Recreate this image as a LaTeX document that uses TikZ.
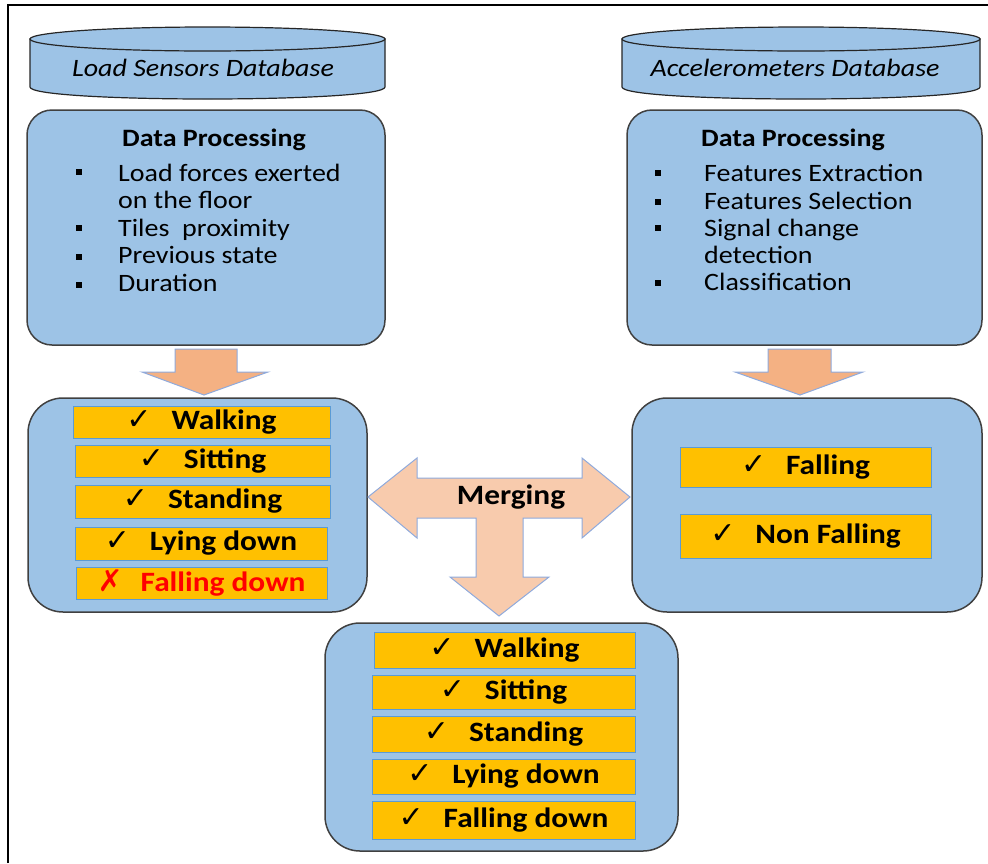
\documentclass[tikz,border=0pt]{standalone}
\usepackage{fontspec}
\setmainfont[FakeStretch=1.12]{Carlito}
\newfontfamily\djv{DejaVu Sans}
\definecolor{boxblue}{HTML}{9DC3E6}
\definecolor{itemyel}{HTML}{FFC000}
\definecolor{itemedge}{HTML}{5B9BD5}
\definecolor{arrowor}{HTML}{F4B183}
\definecolor{arrowlt}{HTML}{F8CBAD}
\definecolor{arrowedge}{HTML}{8FAADC}
\definecolor{boxedge}{HTML}{404040}
\definecolor{xred}{HTML}{FF0000}
\newcommand{\ckm}{{\djv\fontsize{30}{30}\selectfont ✓}\hspace{20pt}}
\newcommand{\xmk}{{\djv\bfseries\fontsize{30}{30}\selectfont ✗}\hspace{18pt}}
\tikzset{
  dpbox/.style={draw=boxedge, line width=1.5pt, fill=boxblue, rounded corners=25pt, inner sep=0pt},
  resbox/.style={draw=boxedge, line width=1.5pt, fill=boxblue, rounded corners=35pt, inner sep=0pt},
  item/.style={draw=itemedge, line width=1pt, fill=itemyel, inner sep=0pt, font=\bfseries\fontsize{28}{28}\selectfont},
  blk/.style={draw=arrowedge, line width=1pt},
  cyl/.style={draw=black!85, line width=1.2pt, fill=boxblue},
  bul/.style={fill=black, minimum size=6pt, inner sep=0pt},
  btxt/.style={anchor=base west, inner sep=0pt, font=\fontsize{25}{25}\selectfont},
  ttl/.style={anchor=base, inner sep=0pt, font=\bfseries\fontsize{25}{25}\selectfont},
  dbl/.style={anchor=base, inner sep=0pt, font=\itshape\fontsize{25}{25}\selectfont},
}
\begin{document}
\begin{tikzpicture}[x=1pt,y=-1pt]
\useasboundingbox (0,0) rectangle (988,863);
% frame
\draw[line width=2.5pt] (8,863) -- (8,5) -- (988,5);

% cylinders
\path[cyl] (30,39) -- (30,87) .. controls (30,103) and (385,103) .. (385,87) -- (385,39) -- cycle;
\path[cyl] (207.5,39) ellipse [x radius=177.5, y radius=12];
\node[dbl] (dbL) at (203,76) {Load Sensors Database};
\path[cyl] (622,39) -- (622,87) .. controls (622,103) and (980,103) .. (980,87) -- (980,39) -- cycle;
\path[cyl] (801,39) ellipse [x radius=179, y radius=12];
\node[dbl] (dbR) at (795,76) {Accelerometers Database};

% data processing boxes
\node[dpbox, minimum width=358pt, minimum height=235pt] (dpL) at (206,227.5) {};
\node[ttl] (dpLt) at (214,146) {Data Processing};
\node[bul] (bl1) at (79,172) {};
\node[btxt] (tl1) at (118,181) {Load forces exerted};
\node[btxt] (tl1b) at (118,208) {on the floor};
\node[bul] (bl2) at (79,228) {};
\node[btxt] (tl2) at (118,236) {Tiles\ \ proximity};
\node[bul] (bl3) at (79,257) {};
\node[btxt] (tl3) at (118,263) {Previous state};
\node[bul] (bl4) at (79,285) {};
\node[btxt] (tl4) at (118,291) {Duration};

\node[dpbox, minimum width=355pt, minimum height=235pt] (dpR) at (804.5,227.5) {};
\node[ttl] (dpRt) at (793,146) {Data Processing};
\node[bul] (br1) at (658,173) {};
\node[btxt] (tr1) at (704,181) {Features Extraction};
\node[bul] (br2) at (658,202) {};
\node[btxt] (tr2) at (704,209) {Features Selection};
\node[bul] (br3) at (658,228) {};
\node[btxt] (tr3) at (704,236) {Signal change};
\node[btxt] (tr3b) at (704,263) {detection};
\node[bul] (br4) at (658,283) {};
\node[btxt] (tr4) at (704,290) {Classification};

% down arrows
\path[blk, fill=arrowor] (175,349) -- (237,349) -- (237,372) -- (268,372) -- (204,395) -- (142,372) -- (175,372) -- cycle;
\path[blk, fill=arrowor] (768,349) -- (831,349) -- (831,372) -- (863,372) -- (800,395) -- (735,372) -- (768,372) -- cycle;

% result boxes
\node[resbox, minimum width=339pt, minimum height=214pt] (resL) at (197.5,505) {};
\node[item, minimum width=257pt, minimum height=32pt] (lw) at (201.5,422) {\ckm Walking};
\node[item, minimum width=255pt, minimum height=32pt] (ls) at (202.5,461) {\ckm Sitting};
\node[item, minimum width=255pt, minimum height=33pt] (lst) at (202.5,501.5) {\ckm Standing};
\node[item, minimum width=252pt, minimum height=33pt] (ll) at (201,543.5) {\ckm Lying down};
\node[item, minimum width=251pt, minimum height=32pt, text=xred] (lf) at (201.5,583) {\xmk Falling down};

\node[resbox, minimum width=350pt, minimum height=214pt] (resR) at (807,505) {};
\node[item, minimum width=251pt, minimum height=40pt] (rf) at (805.5,467) {\ckm Falling};
\node[item, minimum width=251pt, minimum height=44pt] (rn) at (805.5,536) {\ckm Non Falling};

% merging arrow
\path[blk, fill=arrowlt] (368,497) -- (417,458) -- (417,478) -- (582,478) -- (582,458) -- (630,497) -- (582,538) -- (582,518) -- (523,518) -- (523,577) -- (549,577) -- (499,616) -- (450,577) -- (476,577) -- (476,518) -- (417,518) -- (417,538) -- cycle;
\node[font=\bfseries\fontsize{28}{28}\selectfont, inner sep=0pt] (mg) at (511,497) {Merging};

% bottom box
\node[resbox, minimum width=353pt, minimum height=228pt] (resB) at (501.5,737) {};
\node[item, minimum width=261pt, minimum height=36pt] (bw) at (504.5,650) {\ckm Walking};
\node[item, minimum width=263pt, minimum height=34pt] (bs) at (503.5,692) {\ckm Sitting};
\node[item, minimum width=263pt, minimum height=36pt] (bst) at (503.5,734) {\ckm Standing};
\node[item, minimum width=263pt, minimum height=35pt] (bl) at (503.5,776.5) {\ckm Lying down};
\node[item, minimum width=263pt, minimum height=38pt] (bf) at (503.5,820) {\ckm Falling down};
\end{tikzpicture}
\end{document}
